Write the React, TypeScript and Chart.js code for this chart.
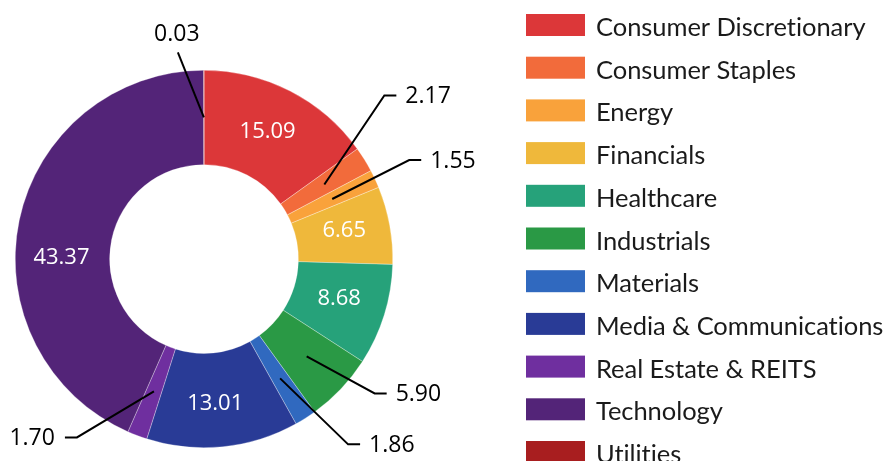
import React, { useEffect, useRef } from "react";
import { Chart, registerables } from "chart.js";

Chart.register(...registerables);

const categories = [
  "Consumer Discretionary",
  "Consumer Staples",
  "Energy",
  "Financials",
  "Healthcare",
  "Industrials",
  "Materials",
  "Media & Communications",
  "Real Estate & REITS",
  "Technology",
  "Utilities",
];
const values = [15.09, 2.17, 1.55, 6.65, 8.68, 5.9, 1.86, 13.01, 1.7, 43.37, 0.03];
const valueLabels = ["15.09", "2.17", "1.55", "6.65", "8.68", "5.90", "1.86", "13.01", "1.70", "43.37", "0.03"];
const colors = [
  "#dc3739",
  "#f26b3b",
  "#f9a23b",
  "#efb83b",
  "#26a27a",
  "#2a9945",
  "#3069bf",
  "#293b96",
  "#6f2f9f",
  "#532478",
  "#a81e1f",
];

// label placement styles (not data)
const insideLabels: Record<number, [number, number]> = {
  0: [-1, -1],
  3: [1, -3],
  4: [0, -2],
  7: [-3, 4],
  9: [-4, 28],
};
const callouts: Record<number, { dx: number; dy: number; h: number; above?: boolean }> = {
  1: { dx: 60, dy: -89, h: 12 },
  2: { dx: 77, dy: -39, h: 12 },
  5: { dx: 68, dy: 37, h: 12 },
  6: { dx: 68, dy: 66, h: 12 },
  8: { dx: -77, dy: 46, h: -12 },
  10: { dx: -26, dy: -65, h: 0, above: true },
};

const LEGEND_X = 526;
const LEGEND_TOP = 14;
const LEGEND_STEP = 42.7;
const BOX_W = 59;
const BOX_H = 22;

const labelPlugin = {
  id: "sliceLabels",
  afterDatasetsDraw(chart: any) {
    const ctx = chart.ctx as CanvasRenderingContext2D;
    const meta = chart.getDatasetMeta(0);
    ctx.save();
    meta.data.forEach((arc: any, i: number) => {
      const p = arc.getCenterPoint();
      if (insideLabels[i]) {
        const [ox, oy] = insideLabels[i];
        ctx.fillStyle = "#ffffff";
        ctx.font = "22px 'Open Sans'";
        ctx.textAlign = "center";
        ctx.textBaseline = "middle";
        ctx.fillText(valueLabels[i], p.x + ox, p.y + oy);
      } else if (callouts[i]) {
        const c = callouts[i];
        const ex = p.x + c.dx;
        const ey = p.y + c.dy;
        ctx.strokeStyle = "#000000";
        ctx.lineWidth = 2;
        ctx.beginPath();
        ctx.moveTo(p.x, p.y);
        ctx.lineTo(ex, ey);
        if (c.h !== 0) ctx.lineTo(ex + c.h, ey);
        ctx.stroke();
        ctx.fillStyle = "#000000";
        ctx.font = "23px 'Open Sans'";
        if (c.above) {
          ctx.textAlign = "center";
          ctx.textBaseline = "alphabetic";
          ctx.fillText(valueLabels[i], ex - 1, ey - 11);
        } else {
          ctx.textBaseline = "middle";
          if (c.h > 0) {
            ctx.textAlign = "left";
            ctx.fillText(valueLabels[i], ex + c.h + 9, ey + 1);
          } else {
            ctx.textAlign = "right";
            ctx.fillText(valueLabels[i], ex + c.h - 10, ey + 1);
          }
        }
      }
    });
    ctx.restore();
  },
};

const legendPlugin = {
  id: "customLegend",
  afterDraw(chart: any) {
    const ctx = chart.ctx as any;
    const labels = chart.data.labels as string[];
    const bg = chart.data.datasets[0].backgroundColor as string[];
    ctx.save();
    labels.forEach((lab, i) => {
      const top = LEGEND_TOP + i * LEGEND_STEP;
      ctx.fillStyle = bg[i];
      ctx.fillRect(LEGEND_X, top, BOX_W, BOX_H);
      ctx.fillStyle = "#1a1a1a";
      ctx.font = "400 25.5px Lato";
      ctx.letterSpacing = "-0.05px";
      ctx.textAlign = "left";
      ctx.textBaseline = "alphabetic";
      ctx.fillText(lab, LEGEND_X + BOX_W + 11, top + BOX_H);
    });
    ctx.restore();
  },
};

export default function App() {
  const ref = useRef<HTMLCanvasElement>(null);
  useEffect(() => {
    if (!ref.current) return;
    const chart = new Chart(ref.current, {
      type: "doughnut",
      data: {
        labels: categories,
        datasets: [
          {
            data: values,
            backgroundColor: colors,
            borderColor: "rgba(255,255,255,0.6)",
            borderWidth: 0.5,
          },
        ],
      },
      options: {
        responsive: false,
        animation: false,
        cutout: "50%",
        layout: { padding: { left: 15, top: 70, right: 497, bottom: 13 } },
        plugins: {
          legend: { display: false },
          tooltip: { enabled: false },
        },
      },
      plugins: [labelPlugin, legendPlugin],
    });
    return () => chart.destroy();
  }, []);
  return (
    <div style={{ position: "fixed", left: 0, top: 0, width: 890, height: 461, background: "#fff", overflow: "hidden" }}>
      <canvas ref={ref} width={890} height={461} style={{ width: 890, height: 461, display: "block" }} />
    </div>
  );
}
